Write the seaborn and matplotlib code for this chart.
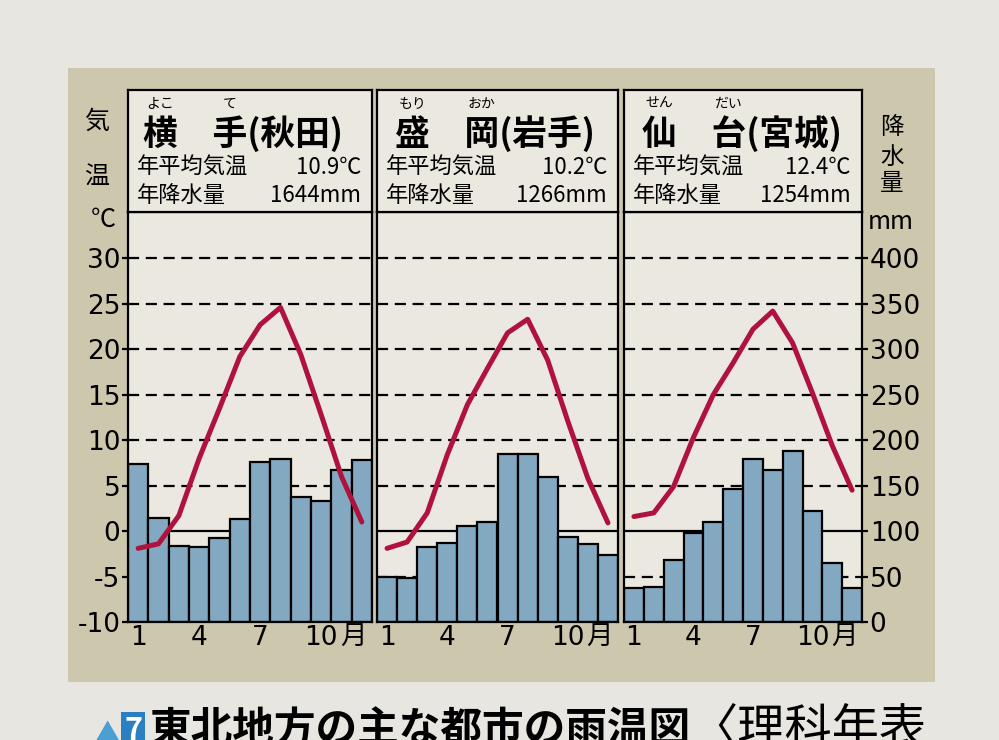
import matplotlib
matplotlib.use('Agg')
import matplotlib.pyplot as plt
import seaborn as sns
import numpy as np
from matplotlib.patches import Rectangle

sns.set_theme(style='white')
plt.rcParams['font.family'] = ['Noto Sans CJK JP', 'DejaVu Sans']

# ---------------- data ----------------
months = [1, 2, 3, 4, 5, 6, 7, 8, 9, 10, 11, 12]
xtick_months = [1, 4, 7, 10]
xtick_labels = ['1', '4', '7', '10']
month_suffix = '月'

cities = ['横　手', '盛　岡', '仙　台']
prefectures = ['(秋田)', '(岩手)', '(宮城)']
furigana_1 = ['よこ', 'もり', 'せん']
furigana_2 = ['て', 'おか', 'だい']
annual_temp = ['10.9℃', '10.2℃', '12.4℃']
annual_prec = ['1644mm', '1266mm', '1254mm']
label_temp = '年平均気温'
label_prec = '年降水量'

temp_yokote = [-1.9, -1.4, 1.7, 8.0, 13.5, 19.2, 22.7, 24.6, 19.4, 12.8, 6.0, 1.0]
prec_yokote = [174, 114, 84, 82, 92, 113, 176, 179, 137, 133, 167, 178]
temp_morioka = [-1.9, -1.2, 2.0, 8.4, 13.9, 17.9, 21.8, 23.3, 18.8, 12.1, 5.8, 0.9]
prec_morioka = [49, 48, 82, 87, 106, 110, 185, 185, 160, 94, 86, 74]
temp_sendai = [1.6, 2.0, 4.9, 10.3, 15.0, 18.5, 22.2, 24.2, 20.7, 15.2, 9.4, 4.5]
prec_sendai = [37, 38, 68, 98, 110, 146, 179, 167, 188, 122, 65, 37]

temps = [temp_yokote, temp_morioka, temp_sendai]
precs = [prec_yokote, prec_morioka, prec_sendai]

temp_ticks = [-10, -5, 0, 5, 10, 15, 20, 25, 30]
prec_ticks = [0, 50, 100, 150, 200, 250, 300, 350, 400]

caption = '東北地方の主な都市の雨温図'
caption_src = '〈理科年表'

# ---------------- style ----------------
W, H = 999, 740
PAPER = '#e8e6e0'
KHAKI = '#cdc8ad'
PANEL = '#ebe8e0'
BAR = '#83a9c2'
RED = '#b0123e'
LW = 1.6
NUM_FONT = ['DejaVu Sans']
TICK_FS = 19

def fx(x):
    return x / W

def fy(y):
    return 1 - y / H

fig = plt.figure(figsize=(W / 100, H / 100), dpi=100, facecolor=PAPER)
fig.patches.append(Rectangle((fx(68), fy(682)), fx(935 - 68), (682 - 68) / H,
                             transform=fig.transFigure, facecolor=KHAKI,
                             edgecolor='none', zorder=-5))

panels = [(128, 372), (377, 618), (624, 862)]
plot_top, plot_bot, head_top = 212, 622, 90
EM = 34.5

for i, (l, r) in enumerate(panels):
    # plot area (precipitation axis)
    ax_p = fig.add_axes([fx(l), fy(plot_bot), fx(r - l), (plot_bot - plot_top) / H])
    ax_p.set_facecolor(PANEL)
    for v in prec_ticks[1:]:
        ax_p.axhline(v, color='black', lw=LW,
                     ls='-' if v == 100 else (0, (5, 3)), zorder=0.5)
    sns.barplot(x=months, y=precs[i], native_scale=True, width=1, color=BAR,
                edgecolor='black', linewidth=LW, saturation=1, errorbar=None,
                ax=ax_p, zorder=2)
    ax_p.set_xlim(0.5, 12.5)
    ax_p.set_ylim(0, 451)
    ax_p.set_xlabel('')
    ax_p.set_ylabel('')
    for s in ax_p.spines.values():
        s.set_visible(True)
        s.set_color('black')
        s.set_linewidth(LW)
    ax_p.set_xticks(xtick_months)
    ax_p.set_xticklabels(xtick_labels, fontsize=TICK_FS, family=NUM_FONT)
    ax_p.tick_params(axis='x', length=0, pad=2, colors='black')
    ax_p.annotate(month_suffix, xy=(10, 0), xycoords=('data', 'axes fraction'),
                  xytext=(13.5, -1), textcoords='offset points', ha='left', va='top',
                  fontsize=TICK_FS, color='black')

    # temperature axis
    ax_t = ax_p.twinx()
    sns.lineplot(x=months, y=temps[i], color=RED, lw=3.6, ax=ax_t,
                 solid_capstyle='round', solid_joinstyle='round', zorder=5)
    ax_t.set_ylim(-10, 35.1)
    ax_t.set_xlim(0.5, 12.5)
    ax_t.set_xlabel('')
    ax_t.set_ylabel('')
    for s in ax_t.spines.values():
        s.set_visible(False)

    if i == 0:
        ax_t.yaxis.tick_left()
        ax_t.set_yticks(temp_ticks)
        ax_t.set_yticklabels([str(t) for t in temp_ticks], fontsize=TICK_FS, family=NUM_FONT)
        ax_t.tick_params(axis='y', direction='out', length=4.5, width=LW, pad=1, colors='black')
    else:
        ax_t.set_yticks([])
    if i == 2:
        ax_p.yaxis.tick_right()
        ax_p.set_yticks(prec_ticks)
        ax_p.set_yticklabels([str(p) for p in prec_ticks], fontsize=TICK_FS, family=NUM_FONT)
        ax_p.tick_params(axis='y', direction='out', length=4.5, width=LW, pad=1, colors='black')
    else:
        ax_p.set_yticks([])

    # header box
    ax_h = fig.add_axes([fx(l), fy(plot_top), fx(r - l), (plot_top - head_top) / H])
    ax_h.set_facecolor(PANEL)
    ax_h.set_xticks([])
    ax_h.set_yticks([])
    for s in ax_h.spines.values():
        s.set_visible(True)
        s.set_color('black')
        s.set_linewidth(LW)

    x0 = l + (15 if i == 0 else 18)
    fig.text(fx(x0), fy(134), cities[i] + prefectures[i], fontsize=25,
             fontweight='bold', ha='left', va='center', color='black')
    fig.text(fx(x0 + EM * 0.5), fy(104), furigana_1[i], fontsize=10,
             ha='center', va='center', color='black')
    fig.text(fx(x0 + EM * 2.5), fy(104), furigana_2[i], fontsize=10,
             ha='center', va='center', color='black')
    fig.text(fx(l + 9), fy(167), label_temp, fontsize=16, ha='left', va='center', color='black')
    fig.text(fx(r - 11), fy(167), annual_temp[i], fontsize=16, ha='right', va='center', color='black')
    fig.text(fx(l + 9), fy(195), label_prec, fontsize=16, ha='left', va='center', color='black')
    fig.text(fx(r - 11), fy(195), annual_prec[i], fontsize=16, ha='right', va='center', color='black')

# axis titles
for ch, y in zip(['気', '温'], [122, 178]):
    fig.text(fx(97), fy(y), ch, fontsize=18, ha='center', va='center', color='black')
fig.text(fx(103), fy(220), '℃', fontsize=18, ha='center', va='center', color='black')
for ch, y in zip(['降', '水', '量'], [128, 157, 184]):
    fig.text(fx(892), fy(y), ch, fontsize=17, ha='center', va='center', color='black')
fig.text(fx(891), fy(222), 'mm', fontsize=18, ha='center', va='center', color='black')

# caption (cut off at bottom, as in the photo)
fig.text(fx(91), fy(748), '▲', fontsize=24, color='#4a9fd3', ha='left', va='baseline')
fig.text(fx(124), fy(740), '7', fontsize=22, color='white', fontweight='bold',
         ha='left', va='baseline',
         bbox=dict(boxstyle='square,pad=0.1', facecolor='#2b7fc3', edgecolor='none'))
fig.text(fx(150), fy(743), caption, fontsize=30, fontweight='bold', color='black',
         ha='left', va='baseline')
fig.text(fx(690), fy(744), caption_src, fontsize=34, color='black',
         ha='left', va='baseline')

fig.savefig('out.png', dpi=100, facecolor=PAPER)
